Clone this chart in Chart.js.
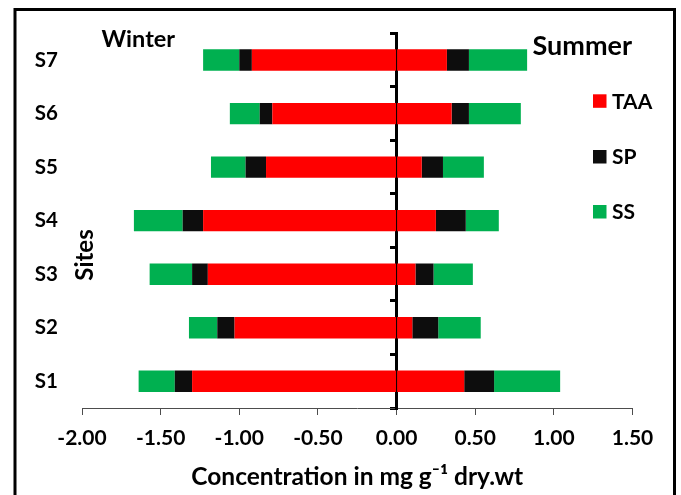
<!DOCTYPE html>
<html>
<head>
<meta charset="utf-8">
<script src="https://cdn.jsdelivr.net/npm/chart.js@4.4.1/dist/chart.umd.min.js"></script>
<style>
  html, body { margin: 0; padding: 0; background: #ffffff; }
  canvas { display: block; }
</style>
</head>
<body>
<canvas id="c" width="681" height="495"></canvas>
<script>
// ---- data ----
const sites = ['S1', 'S2', 'S3', 'S4', 'S5', 'S6', 'S7'];
const seriesNames = ['TAA', 'SP', 'SS'];
// Winter values (plotted to the left of zero)
const winterTAA = [1.30, 1.03, 1.20, 1.23, 0.83, 0.79, 0.92];
const winterSP  = [0.11, 0.11, 0.10, 0.13, 0.13, 0.08, 0.08];
const winterSS  = [0.23, 0.18, 0.27, 0.31, 0.22, 0.19, 0.23];
// Summer values (plotted to the right of zero)
const summerTAA = [0.43, 0.10, 0.12, 0.25, 0.16, 0.35, 0.32];
const summerSP  = [0.19, 0.165, 0.115, 0.19, 0.135, 0.11, 0.14];
const summerSS  = [0.42, 0.27, 0.25, 0.21, 0.26, 0.33, 0.37];
const xTickValues = [-2.0, -1.5, -1.0, -0.5, 0.0, 0.5, 1.0, 1.5];

const colors = { TAA: '#FF0000', SP: '#0D0D0D', SS: '#00B050' };
const FONT = 'Lato, "Open Sans", "DejaVu Sans", sans-serif';

const neg = arr => arr.map(v => -v);
function ds(label, data, color) {
  return { label, data, backgroundColor: color, borderWidth: 0,
           categoryPercentage: 1.0, barPercentage: 0.4, stack: 's' };
}

const overlay = {
  id: 'overlay',
  beforeDraw(chart) {
    const ctx = chart.ctx;
    ctx.save();
    ctx.fillStyle = '#ffffff';
    ctx.fillRect(0, 0, chart.width, chart.height);
    ctx.restore();
  },
  afterDraw(chart) {
    const ctx = chart.ctx;
    ctx.save();
    // outer frame
    ctx.strokeStyle = '#000000';
    ctx.lineWidth = 3;
    ctx.beginPath();
    ctx.moveTo(15, 495);
    ctx.lineTo(15, 9.5);
    ctx.lineTo(674.5, 9.5);
    ctx.lineTo(674.5, 495);
    ctx.stroke();

    ctx.fillStyle = '#000000';
    ctx.textBaseline = 'alphabetic';
    ctx.textAlign = 'left';
    ctx.font = 'bold 23.5px ' + FONT;
    ctx.fillText('Winter', 101.5, 46.7);
    ctx.font = 'bold 27px ' + FONT;
    ctx.fillText('Summer', 532.5, 55);

    // legend
    const legendY = [101, 156.7, 211.7];
    seriesNames.forEach((n, i) => {
      ctx.fillStyle = colors[n];
      ctx.fillRect(593, legendY[i] - 6.7, 13.5, 13.5);
      ctx.fillStyle = '#000000';
      ctx.font = 'bold 21px ' + FONT;
      ctx.textBaseline = 'middle';
      ctx.fillText(n, 612, legendY[i] + 1);
    });

    // "Sites" title
    ctx.translate(85.5, 255);
    ctx.rotate(-Math.PI / 2);
    ctx.textAlign = 'center';
    ctx.textBaseline = 'middle';
    ctx.font = 'bold 24px ' + FONT;
    ctx.fillText('Sites', 0, 0);
    ctx.restore();
  }
};

new Chart(document.getElementById('c'), {
  type: 'bar',
  data: {
    labels: sites,
    datasets: [
      ds('TAA', neg(winterTAA), colors.TAA),
      ds('SP',  neg(winterSP),  colors.SP),
      ds('SS',  neg(winterSS),  colors.SS),
      ds('TAA', summerTAA, colors.TAA),
      ds('SP',  summerSP,  colors.SP),
      ds('SS',  summerSS,  colors.SS)
    ]
  },
  options: {
    indexAxis: 'y',
    responsive: false,
    animation: false,
    devicePixelRatio: 1,
    layout: { padding: { left: 0, top: 33.3, right: 48.5, bottom: 0 } },
    plugins: { legend: { display: false }, tooltip: { enabled: false } },
    scales: {
      x: {
        type: 'linear',
        stacked: true,
        min: -2, max: 1.5,
        afterBuildTicks: s => { s.ticks = xTickValues.map(v => ({ value: v })); },
        afterFit: s => { s.height = 87; },
        ticks: {
          color: '#000000',
          font: { family: FONT, size: 21, weight: 'bold' },
          padding: 11,
          maxRotation: 0,
          callback: v => Number(v).toFixed(2)
        },
        grid: { display: true, drawOnChartArea: false, drawTicks: true, tickLength: 7, color: '#4d4d4d', lineWidth: 1 },
        border: { display: true, color: '#4d4d4d', width: 1 },
        title: {
          display: true,
          text: 'Concentration in mg g\u207B\u00B9 dry.wt',
          color: '#000000',
          font: { family: FONT, size: 24.5, weight: 'bold' },
          padding: { top: 0, bottom: 3 }
        }
      },
      y: {
        type: 'category',
        stacked: true,
        reverse: true,
        offset: true,
        position: 'left',
        afterFit: s => { s.width = 82; },
        ticks: {
          color: '#000000',
          font: { family: FONT, size: 20.5, weight: 'bold' },
          padding: 16
        },
        grid: { display: false, offset: true },
        border: { display: false }
      },
      y0: {
        type: 'category',
        axis: 'y',
        reverse: true,
        offset: true,
        position: { x: 0 },
        z: 1,
        ticks: { display: false },
        grid: { display: true, offset: true, drawOnChartArea: false, drawTicks: true, tickLength: 5, color: '#000000', lineWidth: 3 },
        border: { display: true, color: '#000000', width: 3 }
      }
    }
  },
  plugins: [overlay]
});
</script>
</body>
</html>
